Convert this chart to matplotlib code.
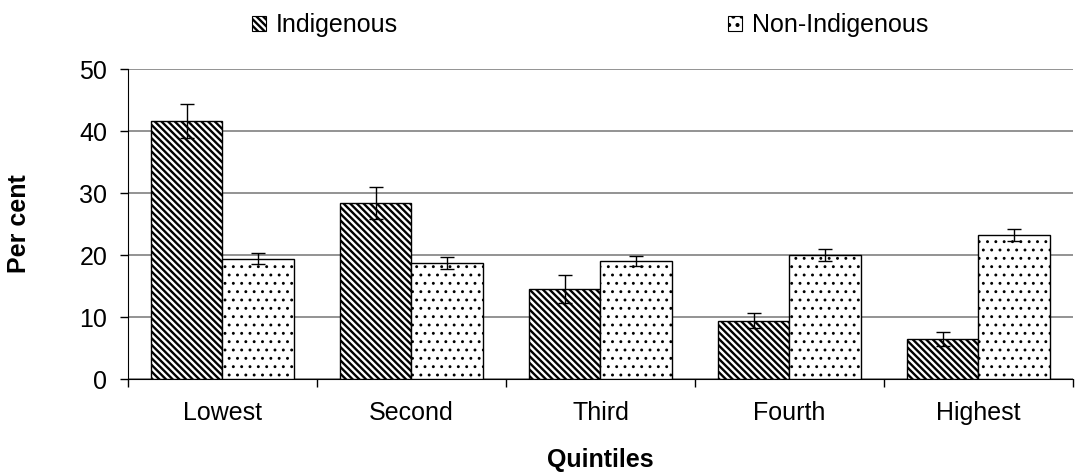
import numpy as np
import matplotlib
matplotlib.use("Agg")
import matplotlib.pyplot as plt
from matplotlib.patches import Patch

# --- Data ---
quintiles = ["Lowest", "Second", "Third", "Fourth", "Highest"]
indigenous = [41.6, 28.4, 14.5, 9.4, 6.5]
indigenous_err = [2.8, 2.6, 2.3, 1.2, 1.1]
non_indigenous = [19.4, 18.7, 19.0, 20.0, 23.2]
non_indigenous_err = [0.9, 0.9, 0.8, 1.0, 1.0]

plt.rcParams['font.family'] = ['Liberation Sans', 'DejaVu Sans']
plt.rcParams['hatch.linewidth'] = 1.7
plt.rcParams['hatch.color'] = 'black'

STRIPES = '\\\\\\\\\\'
DOTS = '..'
FS = 18

fig = plt.figure(figsize=(10.81, 4.74), dpi=100)
ax = fig.add_axes([0.1184, 0.2004, 0.8742, 0.654])

x = np.arange(len(quintiles))
width = 0.38
err_style = dict(ecolor='black', elinewidth=1, capsize=5, capthick=1, zorder=4)

ax.bar(x - width / 2, indigenous, width, color='white', edgecolor='black',
       hatch=STRIPES, linewidth=1, zorder=3, yerr=indigenous_err, error_kw=err_style)
dot_bars = ax.bar(x + width / 2, non_indigenous, width, color='white', edgecolor='black',
                  hatch=DOTS, linewidth=1, zorder=3, yerr=non_indigenous_err, error_kw=err_style)
for b in dot_bars:
    if hasattr(b, 'set_hatch_linewidth'):
        b.set_hatch_linewidth(0.9)

ax.set_xlim(-0.5, len(quintiles) - 0.5)
ax.set_ylim(0, 50)
ax.set_yticks(range(0, 51, 10))
ax.yaxis.grid(True, color='#808080', linewidth=1.2, zorder=0)
ax.set_axisbelow(True)

ax.set_xticks(x)
ax.set_xticklabels(quintiles, fontsize=FS)
ax.tick_params(axis='x', length=0, pad=16)
ax.set_xticks(np.arange(-0.5, len(quintiles) - 0.4, 1), minor=True)
ax.tick_params(axis='x', which='minor', length=6, width=1, direction='out')
ax.tick_params(axis='y', labelsize=FS, length=6, width=1, direction='out', pad=9)

for s in ['top', 'right']:
    ax.spines[s].set_visible(False)

ax.set_ylabel("Per cent", fontsize=FS, fontweight='bold')
ax.yaxis.set_label_coords(-0.1026, 0.5)
ax.set_xlabel("Quintiles", fontsize=FS, fontweight='bold')
ax.xaxis.set_label_coords(0.5, -0.222)

h1 = Patch(facecolor='white', edgecolor='black', hatch=STRIPES, linewidth=0.8)
h2 = Patch(facecolor='white', edgecolor='black', hatch=DOTS, linewidth=0.8)
leg_kw = dict(loc='upper left', frameon=False, fontsize=FS, handlelength=0.55,
              handleheight=0.55, handletextpad=0.4, borderpad=0, borderaxespad=0)
fig.legend([h1], ["Indigenous"], bbox_to_anchor=(0.2331, 0.972), **leg_kw)
fig.legend([h2], ["Non-Indigenous"], bbox_to_anchor=(0.6735, 0.972), **leg_kw)

fig.savefig("out.png", dpi=100)
